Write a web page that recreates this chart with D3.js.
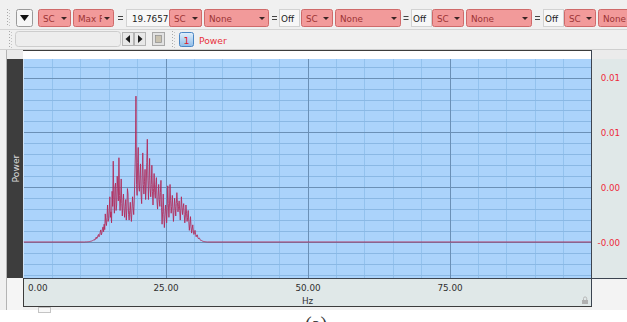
<!DOCTYPE html>
<html><head><meta charset="utf-8">
<script src="https://cdn.jsdelivr.net/npm/d3@7"></script>
<style>
html,body{margin:0;padding:0;background:#fff;}
svg{display:block;font-family:"DejaVu Sans",sans-serif;}
</style></head><body>
<svg id="c" width="627" height="322"></svg>
<script>
// ---- spectrum data (power in units of 1e-3) -----------------------------
const freqStart = 10.6;      // Hz of first sample in `powerE3`
const freqStep = 0.1;        // Hz between samples
const spanHz = [0, 100];     // full analysed band (flat zero outside samples)
const powerE3 = [
  0, 0, 0, 0.01, 0.01, 0.01, 0.01, 0.02, 0.02, 0.03,
  0.03, 0.04, 0.05, 0.06, 0.07, 0.09, 0.11, 0.13, 0.17, 0.14,
  0.24, 0.20, 0.36, 0.25, 0.30, 0.46, 0.55, 0.38, 0.48, 0.70,
  0.88, 0.52, 0.66, 0.95, 1.10, 0.75, 1.30, 0.90, 2.05, 1.40,
  1.20, 1.80, 2.70, 1.50, 1.70, 2.40, 3.30, 1.80, 2.20, 1.40,
  3.70, 2.60, 5.90, 3.10, 2.10, 4.00, 4.30, 2.30, 2.70, 4.80,
  3.90, 3.00, 6.15, 3.40, 2.30, 3.20, 4.60, 2.80, 1.90, 2.90,
  3.50, 2.40, 1.80, 2.60, 3.10, 1.60, 2.40, 3.90, 3.50, 2.00,
  1.60, 2.30, 2.90, 2.00, 1.50, 2.40, 3.30, 2.60, 2.00, 3.00,
  4.70, 6.50, 10.65, 4.20, 3.40, 5.80, 6.90, 4.10, 3.70, 4.90,
  5.70, 3.50, 2.80, 4.80, 6.50, 4.20, 3.50, 4.40, 5.30, 3.10,
  4.00, 5.80, 7.50, 4.60, 3.10, 4.50, 6.10, 3.90, 3.30, 4.20,
  5.60, 3.70, 2.70, 3.90, 5.00, 3.60, 3.20, 4.20, 4.70, 3.00,
  2.40, 3.30, 4.20, 3.10, 2.60, 3.60, 4.50, 2.50, 1.30, 2.20,
  3.50, 2.00, 1.05, 1.90, 2.70, 2.20, 1.40, 2.50, 4.10, 2.80,
  1.80, 2.70, 4.20, 3.00, 2.10, 2.60, 3.40, 2.40, 1.50, 2.30,
  3.20, 2.60, 1.90, 2.80, 3.60, 2.90, 2.20, 2.60, 3.00, 2.30,
  1.60, 2.40, 3.30, 2.50, 2.00, 2.50, 2.80, 2.00, 1.40, 1.90,
  2.70, 2.10, 1.50, 1.80, 2.30, 1.50, 0.85, 1.30, 1.85, 1.10,
  0.65, 0.95, 1.25, 0.80, 0.55, 0.70, 0.85, 0.55, 0.38, 0.50,
  0.52, 0.32, 0.24, 0.30, 0.27, 0.16, 0.12, 0.12, 0.09, 0.07,
  0.05, 0.04, 0.03, 0.03, 0.02, 0.02, 0.01, 0.01, 0
];
const xTickValues = [0, 25, 50, 75];
const yTickValues = [0, 4, 8, 12];                 // ×1e-3
const yTickLabels = ["-0.00", "0.00", "0.01", "0.01"];
const channelName = "Power";
const xUnit = "Hz";
const maxFreqText = "19.7657";
const caption = "(a)";

// ---- toolbar content ----------------------------------------------------
const toolbarRow = [
  {kind: "drop", text: "SC", x: 38, w: 33},
  {kind: "drop", text: "Max F", x: 73, w: 41},
  {kind: "eq", x: 120.5},
  {kind: "field", text: maxFreqText, x: 126, w: 45},
  {kind: "drop", text: "SC", x: 169, w: 33},
  {kind: "drop", text: "None", x: 204, w: 65},
  {kind: "eq", x: 274.5},
  {kind: "field", text: "Off", x: 279, w: 21},
  {kind: "drop", text: "SC", x: 301, w: 32},
  {kind: "drop", text: "None", x: 335, w: 66},
  {kind: "eq", x: 406},
  {kind: "field", text: "Off", x: 411, w: 21},
  {kind: "drop", text: "SC", x: 432, w: 32},
  {kind: "drop", text: "None", x: 466, w: 66},
  {kind: "eq", x: 537.5},
  {kind: "field", text: "Off", x: 543, w: 21},
  {kind: "drop", text: "SC", x: 564, w: 32},
  {kind: "drop", text: "None", x: 598, w: 66}
];

const svg = d3.select("#c");
const defs = svg.append("defs");

// window background
svg.append("rect").attr("width", 627).attr("height", 322).attr("fill", "#ffffff");
svg.append("rect").attr("width", 627).attr("height", 310).attr("fill", "#f0f0f0");

// ---- toolbar row 1 ------------------------------------------------------
const tb = svg.append("g");
function grip(g, x, y0, y1) {
  for (let y = y0; y <= y1; y += 3) {
    g.append("rect").attr("x", x).attr("y", y).attr("width", 1).attr("height", 1).attr("fill", "#a8a8a8");
    g.append("rect").attr("x", x + 2).attr("y", y + 1).attr("width", 1).attr("height", 1).attr("fill", "#c4c4c4");
  }
}
grip(tb, 7, 9, 26);
// menu button
tb.append("rect").attr("x", 16.5).attr("y", 9.5).attr("width", 16).attr("height", 17).attr("rx", 2)
  .attr("fill", "#f6f6f6").attr("stroke", "#9a9a9a");
tb.append("path").attr("d", "M20,15 L29,15 L24.5,21 Z").attr("fill", "#111");

const rowY = 9.5, rowH = 17;
function dropdown(it) {
  const g = tb.append("g");
  const cid = "clip" + it.x;
  defs.append("clipPath").attr("id", cid).append("rect")
    .attr("x", it.x).attr("y", rowY).attr("width", it.w - 12).attr("height", rowH);
  g.append("rect").attr("x", it.x + 0.5).attr("y", rowY).attr("width", it.w - 1).attr("height", rowH)
    .attr("rx", 2).attr("fill", "#f29a9a").attr("stroke", "#cf6a6a");
  g.append("text").attr("x", it.x + 5).attr("y", rowY + 12).attr("font-size", 8.8)
    .attr("fill", "#9c3434").attr("clip-path", `url(#${cid})`).text(it.text);
  const ax = it.x + it.w - 10;
  g.append("path").attr("d", `M${ax},${rowY + 7.5} L${ax + 6},${rowY + 7.5} L${ax + 3},${rowY + 10.5} Z`)
    .attr("fill", "#3a2424");
}
toolbarRow.forEach(it => {
  if (it.kind === "drop") {
    dropdown(it);
  } else if (it.kind === "eq") {
    tb.append("rect").attr("x", it.x - 2.5).attr("y", rowY + 6.5).attr("width", 5).attr("height", 1).attr("fill", "#444");
    tb.append("rect").attr("x", it.x - 2.5).attr("y", rowY + 9.5).attr("width", 5).attr("height", 1).attr("fill", "#444");
  } else {
    tb.append("rect").attr("x", it.x + 0.5).attr("y", rowY).attr("width", it.w - 1).attr("height", rowH)
      .attr("fill", "#f7f7f7").attr("stroke", "#d2d2d2");
    tb.append("text").attr("x", it.x + (it.text === "Off" ? 2 : 6)).attr("y", rowY + 12).attr("font-size", 8.8)
      .attr("fill", "#222").text(it.text);
  }
});
// the value field runs under the following dropdown; draw that dropdown again on top
dropdown(toolbarRow[4]);
svg.append("rect").attr("x", 0).attr("y", 29).attr("width", 627).attr("height", 1).attr("fill", "#d4d4d4");

// ---- toolbar row 2 ------------------------------------------------------
const tb2 = svg.append("g");
grip(tb2, 9, 31, 46);
tb2.append("rect").attr("x", 15.5).attr("y", 31.5).attr("width", 105).attr("height", 15).attr("rx", 3)
  .attr("fill", "#ededed").attr("stroke", "#cdcdcd");
[[122, "M130,35 L130,43 L125.5,39 Z"], [134, "M138,35 L138,43 L142.5,39 Z"]].forEach(([bx, d]) => {
  tb2.append("rect").attr("x", bx + 0.5).attr("y", 32.5).attr("width", 11).attr("height", 13)
    .attr("fill", "#e8e8e8").attr("stroke", "#b4b4b4");
  tb2.append("path").attr("d", d).attr("fill", "#1a1a1a");
});
tb2.append("rect").attr("x", 152.5).attr("y", 32.5).attr("width", 12).attr("height", 13)
  .attr("fill", "#e2e2e2").attr("stroke", "#a8a8a8");
tb2.append("rect").attr("x", 155.5).attr("y", 35.5).attr("width", 6).attr("height", 7)
  .attr("fill", "#c9c2b0").attr("stroke", "#8c8c8c").attr("stroke-width", 0.7);
grip(tb2, 172, 31, 46);
const bg = defs.append("linearGradient").attr("id", "badge").attr("x1", 0).attr("y1", 0).attr("x2", 0).attr("y2", 1);
bg.append("stop").attr("offset", 0).attr("stop-color", "#e2f0fc");
bg.append("stop").attr("offset", 1).attr("stop-color", "#8ebce8");
tb2.append("rect").attr("x", 179.5).attr("y", 32.5).attr("width", 14).attr("height", 14).attr("rx", 2)
  .attr("fill", "url(#badge)").attr("stroke", "#4a86c4");
tb2.append("text").attr("x", 186.5).attr("y", 43.5).attr("text-anchor", "middle").attr("font-size", 9.5)
  .attr("fill", "#e0202a").text("1");
tb2.append("text").attr("x", 199).attr("y", 43.5).attr("font-size", 9.2)
  .attr("fill", "#e8303c").text(channelName);
svg.append("rect").attr("x", 0).attr("y", 49).attr("width", 627).attr("height", 1).attr("fill", "#cfcfcf");

// ---- chart frame --------------------------------------------------------
const plot = {x0: 23.5, x1: 591.5, y0: 59, y1: 278};
svg.append("rect").attr("x", 7).attr("y", 50).attr("width", 16).attr("height", 9).attr("fill", "#ebebeb");
svg.append("rect").attr("x", 23).attr("y", 50).attr("width", 568).attr("height", 9).attr("fill", "#ffffff");
svg.append("rect").attr("x", 23).attr("y", 50).attr("width", 568).attr("height", 1).attr("fill", "#3c3c3c");
svg.append("rect").attr("x", 592).attr("y", 50).attr("width", 35).attr("height", 9).attr("fill", "#ebebeb");
svg.append("rect").attr("x", 7).attr("y", 59).attr("width", 16).attr("height", 219).attr("fill", "#3d3d3d");
svg.append("rect").attr("x", 6).attr("y", 50).attr("width", 1).attr("height", 260).attr("fill", "#b4b4b4");
svg.append("rect").attr("x", 7).attr("y", 278).attr("width", 16).attr("height", 32).attr("fill", "#f5f5f5");
svg.append("rect").attr("x", 38.5).attr("y", 307.5).attr("width", 12).attr("height", 5)
  .attr("fill", "#f8f8f8").attr("stroke", "#c4c4c4");

// channel label
svg.append("text").attr("transform", `translate(18.5,${(plot.y0 + plot.y1) / 2}) rotate(-90)`)
  .attr("text-anchor", "middle").attr("font-size", 9.2).attr("fill", "#dcdcdc").text(channelName);

// ---- scales -------------------------------------------------------------
const x = d3.scaleLinear().domain(spanHz).range([plot.x0, plot.x1]);
const y = d3.scaleLinear().domain([-2.628, 13.358]).range([plot.y1, plot.y0]);

// plot background + grid
svg.append("rect").attr("x", plot.x0).attr("y", plot.y0).attr("width", plot.x1 - plot.x0)
  .attr("height", plot.y1 - plot.y0).attr("fill", "#abd3fb");
const grid = svg.append("g").attr("shape-rendering", "crispEdges");
const xMinor = d3.range(spanHz[0], spanHz[1] + 0.001, 5).filter(v => v % 25 !== 0);
const yStep = (yTickValues[1] - yTickValues[0]) / 5;
const yMinor = d3.range(-3, 17).map(k => k * yStep).filter(v => {
  const p = y(v); return p > plot.y0 && p < plot.y1;
}).filter(v => !yTickValues.some(t => Math.abs(t - v) < 1e-9));
grid.selectAll(".xm").data(xMinor).join("line")
  .attr("x1", d => Math.round(x(d)) + 0.5).attr("x2", d => Math.round(x(d)) + 0.5)
  .attr("y1", plot.y0).attr("y2", plot.y1).attr("stroke", "#93c2ee").attr("stroke-width", 1);
grid.selectAll(".ym").data(yMinor).join("line")
  .attr("x1", plot.x0).attr("x2", plot.x1)
  .attr("y1", d => Math.round(y(d)) + 0.5).attr("y2", d => Math.round(y(d)) + 0.5)
  .attr("stroke", "#8ab8e4");
grid.selectAll(".xM").data(xTickValues.filter(v => v > spanHz[0])).join("line")
  .attr("x1", d => Math.round(x(d)) + 0.5).attr("x2", d => Math.round(x(d)) + 0.5)
  .attr("y1", plot.y0).attr("y2", plot.y1).attr("stroke", "#6b90b6");
grid.selectAll(".yM").data(yTickValues).join("line")
  .attr("x1", plot.x0).attr("x2", plot.x1)
  .attr("y1", d => Math.round(y(d)) + 0.5).attr("y2", d => Math.round(y(d)) + 0.5)
  .attr("stroke", "#6b90b6");

// ---- spectrum line ------------------------------------------------------
defs.append("clipPath").attr("id", "plotClip").append("rect")
  .attr("x", plot.x0).attr("y", plot.y0).attr("width", plot.x1 - plot.x0).attr("height", plot.y1 - plot.y0);
const pts = [{f: spanHz[0], v: 0}]
  .concat(powerE3.map((v, i) => ({f: freqStart + i * freqStep, v})))
  .concat([{f: spanHz[1], v: 0}]);
svg.append("path").datum(pts).attr("clip-path", "url(#plotClip)")
  .attr("d", d3.line().x(d => x(d.f)).y(d => y(d.v)))
  .attr("fill", "none").attr("stroke", "#b22a5a").attr("stroke-width", 1)
  .attr("stroke-linejoin", "bevel").attr("stroke-opacity", 0.88);

// ---- right value panel --------------------------------------------------
svg.append("rect").attr("x", 592).attr("y", 59).attr("width", 35).attr("height", 219).attr("fill", "#e0e8e8");
const yAxis = d3.axisRight(y).tickValues(yTickValues).tickSize(0).tickPadding(0)
  .tickFormat((d, i) => yTickLabels[i]);
const ya = svg.append("g").attr("transform", "translate(620,0)").call(yAxis);
ya.select(".domain").remove();
ya.selectAll("text").attr("text-anchor", "end").attr("x", 0).attr("dy", "0.35em")
  .attr("font-family", "DejaVu Sans").attr("font-size", 8.7).attr("fill", "#ee2a3c");

// ---- bottom frequency panel ---------------------------------------------
svg.append("rect").attr("x", 23).attr("y", 279).attr("width", 568).attr("height", 28).attr("fill", "#e0e8e8");
svg.append("rect").attr("x", 592).attr("y", 279).attr("width", 35).attr("height", 31).attr("fill", "#f3f3f3");
const xAxis = d3.axisBottom(x).tickValues(xTickValues).tickSize(0).tickPadding(0).tickFormat(d3.format(".2f"));
const xa = svg.append("g").attr("transform", "translate(0,291)").call(xAxis);
xa.select(".domain").remove();
xa.selectAll("text").attr("y", 0).attr("dy", 0).attr("font-family", "DejaVu Sans").attr("font-size", 8.8)
  .attr("fill", "#303030")
  .attr("text-anchor", d => d === spanHz[0] ? "start" : "middle")
  .attr("x", d => d === spanHz[0] ? 4 : 0);
svg.append("text").attr("x", (plot.x0 + plot.x1) / 2).attr("y", 304).attr("text-anchor", "middle")
  .attr("font-size", 8.8).attr("fill", "#303030").text(xUnit);
// lock glyph
svg.append("path").attr("d", "M583.5,300 L583.5,298.5 A1.6,1.6 0 0 1 586.7,298.5 L586.7,300")
  .attr("fill", "none").attr("stroke", "#b8b8b8");
svg.append("rect").attr("x", 582).attr("y", 300).attr("width", 6).attr("height", 4).attr("fill", "#b0b0b0");

// frame lines
svg.append("rect").attr("x", 591).attr("y", 50).attr("width", 1).attr("height", 257).attr("fill", "#3c4450");
svg.append("rect").attr("x", 23).attr("y", 278).attr("width", 604).attr("height", 1).attr("fill", "#3c4450");
svg.append("rect").attr("x", 23).attr("y", 306).attr("width", 569).attr("height", 1).attr("fill", "#3c3c3c");
svg.append("rect").attr("x", 23).attr("y", 278).attr("width", 1).attr("height", 29).attr("fill", "#3c3c3c");

// figure caption, partly below the window edge
svg.append("text").attr("x", 316).attr("y", 331).attr("text-anchor", "middle")
  .attr("font-family", "Liberation Serif").attr("font-size", 20).attr("fill", "#333").text(caption);
</script>
</body></html>
